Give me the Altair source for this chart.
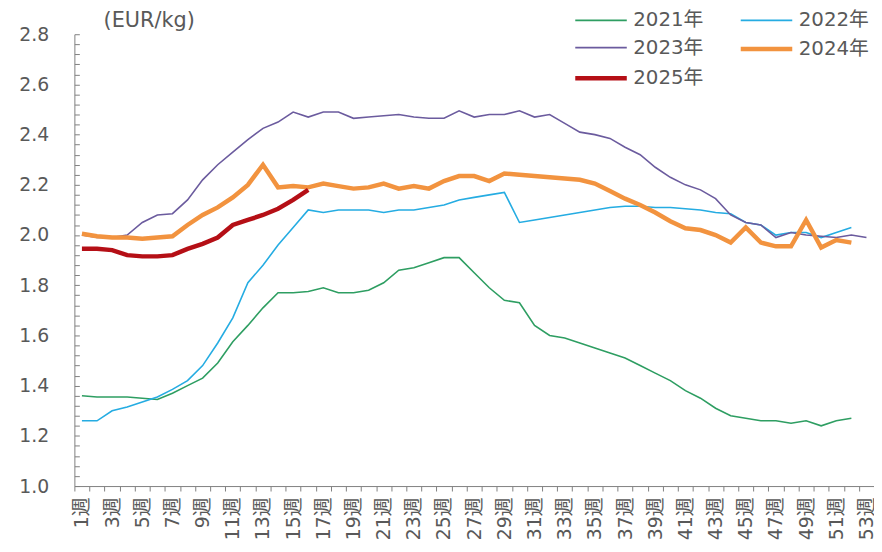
import altair as alt
import pandas as pd

weeks = [f"{i}週" for i in range(1, 54)]
years = ["2021年", "2022年", "2023年", "2024年", "2025年"]

y2021 = [1.36, 1.355, 1.355, 1.355, 1.35, 1.345, 1.37, 1.40, 1.43, 1.49,
         1.575, 1.64, 1.71, 1.77, 1.77, 1.775, 1.79, 1.77, 1.77, 1.78,
         1.81, 1.86, 1.87, 1.89, 1.91, 1.91, 1.85, 1.79, 1.74, 1.73,
         1.64, 1.60, 1.59, 1.57, 1.55, 1.53, 1.51, 1.48, 1.45, 1.42,
         1.38, 1.35, 1.31, 1.28, 1.27, 1.26, 1.26, 1.25, 1.26, 1.24,
         1.26, 1.27]
y2022 = [1.26, 1.26, 1.30, 1.315, 1.335, 1.355, 1.385, 1.42, 1.48, 1.57,
         1.67, 1.81, 1.88, 1.96, 2.03, 2.10, 2.09, 2.10, 2.10, 2.10,
         2.09, 2.10, 2.10, 2.11, 2.12, 2.14, 2.15, 2.16, 2.17, 2.05,
         2.06, 2.07, 2.08, 2.09, 2.10, 2.11, 2.115, 2.115, 2.11, 2.11,
         2.105, 2.10, 2.09, 2.085, 2.05, 2.04, 2.00, 2.01, 2.01, 1.99,
         2.01, 2.03]
y2023 = [2.00, 1.99, 1.99, 2.00, 2.05, 2.08, 2.085, 2.14, 2.22, 2.28,
         2.33, 2.38, 2.425, 2.45, 2.49, 2.47, 2.49, 2.49, 2.465, 2.47,
         2.475, 2.48, 2.47, 2.465, 2.465, 2.495, 2.47, 2.48, 2.48, 2.495,
         2.47, 2.48, 2.445, 2.41, 2.40, 2.385, 2.35, 2.32, 2.27, 2.23,
         2.20, 2.18, 2.145, 2.08, 2.05, 2.04, 1.99, 2.01, 2.00, 1.995,
         1.99, 2.00, 1.99]
y2024 = [2.005, 1.995, 1.99, 1.99, 1.985, 1.99, 1.995, 2.04, 2.08, 2.11,
         2.15, 2.20, 2.28, 2.19, 2.195, 2.19, 2.205, 2.195, 2.185, 2.19,
         2.205, 2.185, 2.195, 2.185, 2.215, 2.235, 2.235, 2.215, 2.245, 2.24,
         2.235, 2.23, 2.225, 2.22, 2.205, 2.175, 2.145, 2.12, 2.09, 2.055,
         2.027, 2.02, 2.00, 1.97, 2.03, 1.97, 1.955, 1.955, 2.06, 1.95,
         1.98, 1.97]
y2025 = [1.945, 1.945, 1.94, 1.92, 1.915, 1.915, 1.92, 1.945, 1.965, 1.99,
         2.04, 2.06, 2.08, 2.105, 2.14, 2.18]

colors = ["#2E9E62", "#25ACE2", "#6B5B9E", "#F2933F", "#B50F16"]
widths = [1.6, 1.6, 1.6, 4.5, 4.5]

y_label_values = [1.0, 1.2, 1.4, 1.6, 1.8, 2.0, 2.2, 2.4, 2.6, 2.8]
y_minor_values = [round(1.0 + 0.04 * i, 2) for i in range(46)]

rows = []
for yr, vals in zip(years, [y2021, y2022, y2023, y2024, y2025]):
    for i, v in enumerate(vals):
        rows.append({"week": weeks[i], "year": yr, "value": v})
df = pd.DataFrame(rows)

FONT = "DejaVu Sans, Noto Sans CJK JP, sans-serif"
GRAY = "#595959"
AXIS_GRAY = "#7f7f7f"

x_enc = alt.X(
    "week:N", sort=weeks,
    scale=alt.Scale(type="band", domain=weeks, paddingInner=0, paddingOuter=0),
    axis=alt.Axis(
        title=None, labelAngle=270, tickBand="extent", ticks=True, tickSize=5,
        tickColor=AXIS_GRAY, domainColor=AXIS_GRAY, labelFont=FONT,
        labelFontSize=19, labelColor=GRAY, labelPadding=6, labelOverlap=False,
        labelExpr="parseInt(datum.value) % 2 == 1 ? datum.value : ''",
    ),
)

y_scale = alt.Scale(domain=[1.0, 2.8], nice=False, zero=False)

legend = alt.Legend(
    title=None, orient="none", legendX=503, legendY=-25, columns=2,
    direction="horizontal",
    symbolType="M-1,0L4.2,0", symbolSize=400, labelFont=FONT, labelFontSize=20,
    labelColor=GRAY, columnPadding=28, rowPadding=6.5, labelOffset=36, padding=0,
)

lines = alt.Chart(df).mark_line().encode(
    x=x_enc,
    y=alt.Y("value:Q", scale=y_scale, axis=alt.Axis(
        values=y_label_values, format=".1f", ticks=False, grid=False,
        domainColor=AXIS_GRAY, labelFont=FONT, labelFontSize=19,
        labelColor=GRAY, labelPadding=26,
        title="(EUR/kg)", titleAngle=0, titleX=29, titleY=-14,
        titleAlign="left", titleBaseline="middle", titleFont=FONT,
        titleFontSize=21, titleFontWeight="normal", titleColor=GRAY,
    )),
    color=alt.Color("year:N", scale=alt.Scale(domain=years, range=colors), legend=legend),
    strokeWidth=alt.StrokeWidth("year:N", scale=alt.Scale(type="ordinal", domain=years, range=widths), legend=legend),
)

ticks_layer = alt.Chart(df).mark_line(opacity=0).encode(
    x=x_enc,
    y=alt.Y("value:Q", scale=y_scale, axis=alt.Axis(
        orient="left", values=y_minor_values, labels=False, domain=False,
        ticks=True, tickSize=5, offset=-5, grid=False, title=None,
        tickColor=AXIS_GRAY,
    )),
    detail="year:N",
)

chart = alt.layer(lines, ticks_layer).resolve_axis(y="independent").properties(
    width=807, height=456,
    autosize=alt.AutoSizeParams(type="none"),
    padding={"left": 67, "top": 24, "right": 0, "bottom": 56},
).configure_view(stroke=None)

chart.save("out.html", embed_options={"renderer": "svg", "actions": False})
